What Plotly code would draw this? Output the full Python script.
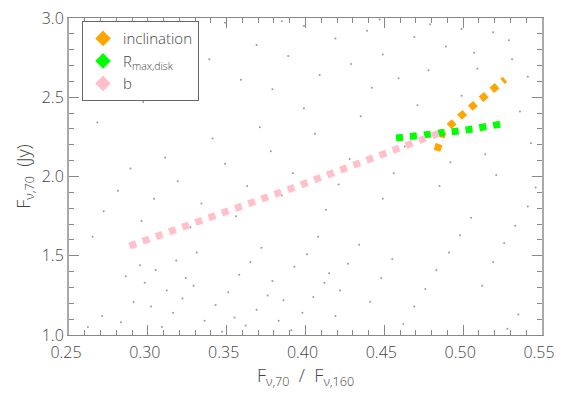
import plotly.graph_objects as go

# background model grid points
grid_x = [0.262, 0.271, 0.283, 0.291, 0.298, 0.305, 0.312, 0.318, 0.324, 0.331, 0.286, 0.295, 0.302, 0.309, 0.316,
          0.322, 0.329, 0.336, 0.343, 0.351, 0.358, 0.365, 0.372, 0.379, 0.386, 0.393, 0.401, 0.408, 0.415, 0.422,
          0.347, 0.355, 0.362, 0.369, 0.376, 0.383, 0.391, 0.398, 0.405, 0.412, 0.419, 0.427, 0.434, 0.441, 0.448,
          0.455, 0.462, 0.469, 0.476, 0.483, 0.491, 0.498, 0.505, 0.512, 0.519, 0.526, 0.533, 0.541, 0.535, 0.528,
          0.265, 0.272, 0.281, 0.289, 0.296, 0.304, 0.311, 0.319, 0.327, 0.334, 0.341, 0.349, 0.356, 0.363, 0.371,
          0.378, 0.385, 0.392, 0.399, 0.406, 0.413, 0.421, 0.428, 0.435, 0.442, 0.449, 0.456, 0.463, 0.471, 0.478,
          0.485, 0.492, 0.499, 0.507, 0.514, 0.521, 0.529, 0.536, 0.543, 0.546,
          0.268, 0.277, 0.287, 0.297, 0.308, 0.318, 0.329, 0.339, 0.349, 0.359, 0.369, 0.379, 0.389, 0.399, 0.409,
          0.419, 0.429, 0.439, 0.449, 0.459, 0.469, 0.479, 0.489, 0.499, 0.509, 0.519, 0.531, 0.541, 0.447, 0.385]
grid_y = [1.05, 1.12, 1.08, 1.21, 1.33, 1.41, 1.28, 1.47, 1.36, 1.52, 1.37, 1.44, 1.18, 1.05, 1.14,
          1.23, 1.31, 1.09, 1.19, 1.27, 1.38, 1.46, 1.55, 1.34, 1.22, 1.43, 1.51, 1.62, 1.39, 1.28,
          1.02, 1.11, 1.06, 1.16, 1.25, 1.09, 1.03, 1.14, 1.24, 1.33, 1.12, 1.45, 1.57, 1.21, 1.36,
          1.48, 1.07, 1.18, 1.29, 1.41, 1.52, 1.63, 1.74, 1.31, 1.46, 1.58, 1.69, 1.81, 1.13, 1.04,
          1.62, 1.78, 1.91, 2.05, 1.72, 1.86, 2.12, 1.97, 1.68, 1.83, 2.24, 2.08, 1.75, 1.94, 2.31,
          2.16, 1.88, 2.02, 2.43, 2.27, 1.79, 1.95, 2.11, 2.38, 2.56, 1.86, 2.02, 2.19, 2.45, 2.67,
          1.94, 2.09, 2.51, 2.78, 2.14, 2.01, 2.86, 2.41, 2.21, 1.93,
          2.34, 2.58, 2.81, 2.47, 2.69, 2.93, 2.52, 2.74, 2.97, 2.61, 2.83, 2.55, 2.76, 2.95, 2.64,
          2.87, 2.71, 2.92, 2.77, 2.62, 2.88, 2.96, 2.82, 2.93, 2.68, 2.91, 2.74, 2.63, 2.99, 2.98]

# parameter tracks
incl_x = [0.4834, 0.4872, 0.498, 0.512, 0.5265]
incl_y = [2.162, 2.282, 2.378, 2.491, 2.613]
rmax_x = [0.4574, 0.480, 0.500, 0.5234]
rmax_y = [2.243, 2.263, 2.290, 2.330]
b_x = [0.2884, 0.3908, 0.4847]
b_y = [1.5616, 1.9237, 2.273]

names = ['inclination', 'R<sub>max,disk</sub>', 'b']
colors = ['#FFA500', '#00FF00', '#FFC0CB']

fig = go.Figure()

fig.add_trace(go.Scatter(x=grid_x, y=grid_y, mode='markers', showlegend=False,
                         marker=dict(size=2, color='#9a9a9a')))

for xs, ys, c in [(incl_x, incl_y, colors[0]), (rmax_x, rmax_y, colors[1]), (b_x, b_y, colors[2])]:
    fig.add_trace(go.Scatter(x=xs, y=ys, mode='lines', showlegend=False,
                             line=dict(color=c, width=7, dash='dot')))

# legend entries with diamond symbols
for n, c in zip(names, colors):
    fig.add_trace(go.Scatter(x=[None], y=[None], mode='markers', name=n,
                             marker=dict(symbol='diamond', size=11, color=c)))

font = dict(family='Open Sans', size=16, color='#444', weight=300)
sp = '\u00a0'

# page has an 8px body margin, so the figure is sized to the visible area
fig.update_layout(
    width=554, height=386,
    margin=dict(l=61, r=20, t=10, b=59),
    plot_bgcolor='white', paper_bgcolor='white',
    font=font,
    legend=dict(x=0.0275, y=0.99, xanchor='left', yanchor='top',
                bordercolor='#666', borderwidth=1, bgcolor='white',
                font=dict(family='Open Sans', size=15, color='#444', weight=300),
                tracegroupgap=0, itemsizing='constant'),
    xaxis=dict(range=[0.25, 0.55], dtick=0.05, tick0=0.25, tickformat='.2f', automargin=False,
               ticks='inside', ticklen=10, tickcolor='#888', showline=True, linecolor='#888',
               mirror='ticks', showgrid=False, zeroline=False, ticklabeloverflow='allow',
               ticklabelshift=-3, ticklabelstandoff=3,
               minor=dict(dtick=0.01, ticks='inside', ticklen=5, tickcolor='#888'),
               title=dict(text='F<sub>ν,70</sub>' + sp * 2 + '/' + sp * 2 + 'F<sub>ν,160</sub>', standoff=2,
                          font=dict(size=18))),
    yaxis=dict(range=[1.0, 3.0], dtick=0.5, tick0=1.0, tickformat='.1f', automargin=False,
               ticks='inside', ticklen=10, tickcolor='#888', showline=True, linecolor='#aaa', linewidth=2,
               mirror='ticks', showgrid=False, zeroline=False, ticklabeloverflow='allow',
               minor=dict(dtick=0.1, ticks='inside', ticklen=5, tickcolor='#888'),
               title=dict(text='F<sub>ν,70</sub>' + sp * 2 + '(Jy)', standoff=6, font=dict(size=18))),
)

fig.write_html("out.html")
